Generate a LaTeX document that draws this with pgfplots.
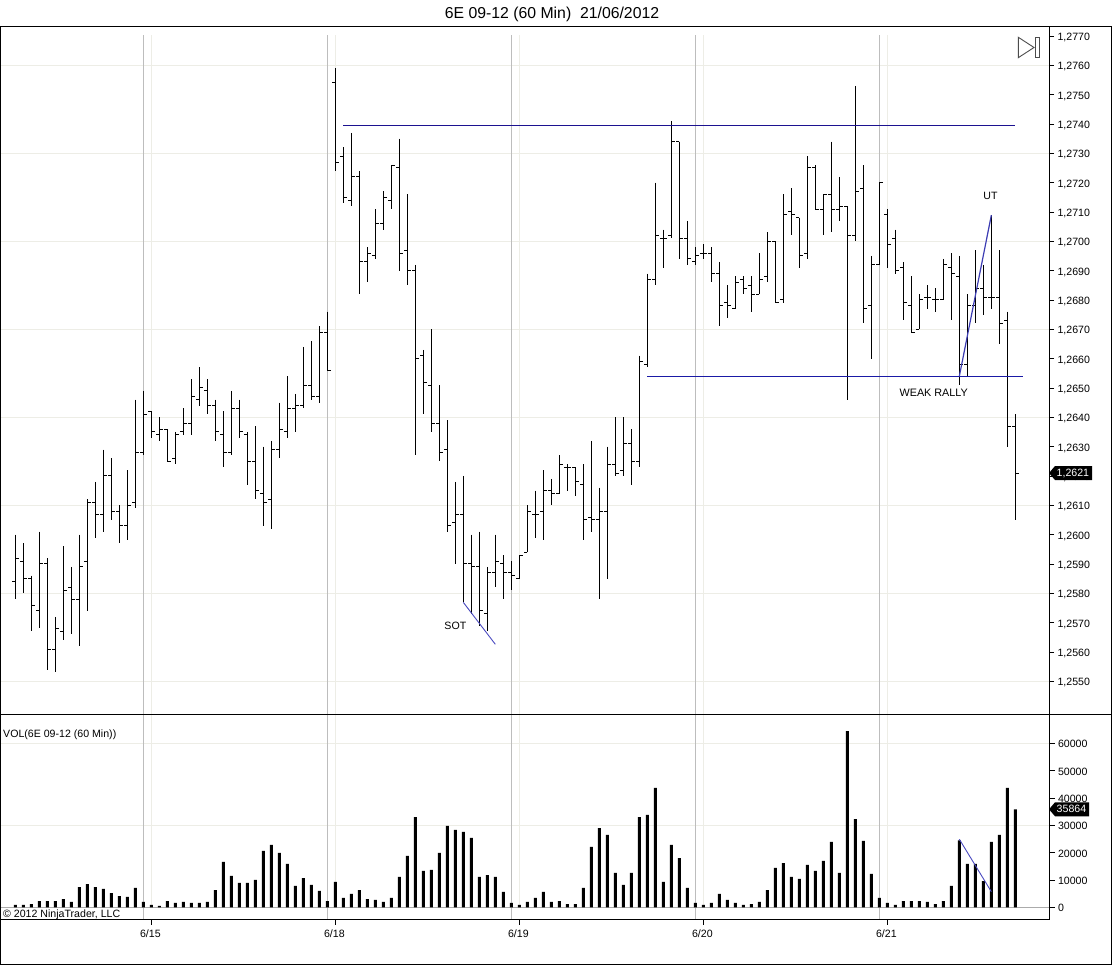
\documentclass[border=0pt]{standalone}
\usepackage{fontspec}
\setmainfont{Liberation Sans}
\usepackage{pgfplots}
\usepackage{pgfplotstable}
\pgfplotsset{compat=1.18}

\definecolor{gridlight}{HTML}{EDEDE6}
\definecolor{gridgray}{HTML}{BDBDBD}
\definecolor{zeroline}{HTML}{ABABAB}
\definecolor{navyline}{HTML}{1C1290}
\definecolor{blueline}{HTML}{1A1AA6}
\definecolor{thinblue}{HTML}{4A4AC0}

\newcommand{\chartfont}{\fontsize{10.6}{12}\selectfont}

% i open high low close volume
\pgfplotstableread{
i o h l c v
0 1.2584 1.2600 1.2578 1.2592 850
1 1.2591 1.2597 1.2580 1.2585 850
2 1.2585 1.2586 1.2567 1.2576 1200
3 1.2574 1.2601 1.2568 1.2590 2300
4 1.2590 1.2592 1.2554 1.2561 2300
5 1.2561 1.2572 1.2553 1.2568 2300
6 1.2567 1.2596 1.2564 1.2581 3000
7 1.2582 1.2589 1.2566 1.2578 2000
8 1.2578 1.2600 1.2562 1.2589 7400
9 1.2591 1.2612 1.2574 1.2611 8500
10 1.2611 1.2618 1.2599 1.2607 7400
11 1.2607 1.2629 1.2601 1.2620 6700
12 1.2620 1.2626 1.2605 1.2608 5200
13 1.2608 1.2610 1.2597 1.2603 4100
14 1.2603 1.2622 1.2598 1.2610 3800
15 1.2611 1.2646 1.2609 1.2628 7100
16 1.2628 1.2649 1.2627 1.2641 2000
17 1.2642 1.2642 1.2633 1.2635 850
18 1.2634 1.2640 1.2632 1.2636 500
19 1.2636 1.2636 1.2625 1.2625 2300
20 1.2626 1.2635 1.2624 1.2634 1600
21 1.2635 1.2643 1.2634 1.2638 2000
22 1.2638 1.2653 1.2634 1.2647 1600
23 1.2646 1.2657 1.2644 1.2650 1600
24 1.2649 1.2653 1.2641 1.2644 2000
25 1.2644 1.2646 1.2632 1.2635 6300
26 1.2634 1.2642 1.2623 1.2628 16600
27 1.2628 1.2649 1.2627 1.2643 11500
28 1.2643 1.2646 1.2633 1.2635 8900
29 1.2634 1.2635 1.2617 1.2625 8900
30 1.2625 1.2637 1.2612 1.2615 10000
31 1.2614 1.2630 1.2603 1.2611 20600
32 1.2612 1.2632 1.2602 1.2629 22800
33 1.2629 1.2645 1.2626 1.2636 19900
34 1.2635 1.2654 1.2633 1.2643 15900
35 1.2643 1.2648 1.2635 1.2644 7800
36 1.2644 1.2664 1.2643 1.2651 10700
37 1.2651 1.2666 1.2646 1.2647 8200
38 1.2647 1.2671 1.2645 1.2669 6000
39 1.2669 1.2676 1.2656 1.2656 2300
40 1.2754 1.2759 1.2724 1.2727 9300
41 1.2729 1.2732 1.2713 1.2715 3400
42 1.2714 1.2737 1.2712 1.2722 4900
43 1.2722 1.2724 1.2682 1.2693 6300
44 1.2693 1.2698 1.2686 1.2696 3000
45 1.2695 1.2711 1.2694 1.2706 2700
46 1.2706 1.2717 1.2704 1.2715 2000
47 1.2714 1.2726 1.2711 1.2726 3400
48 1.2725 1.2735 1.2690 1.2696 11100
49 1.2697 1.2716 1.2685 1.2690 18800
50 1.2690 1.2692 1.2627 1.2660 33000
51 1.2661 1.2663 1.2641 1.2652 13300
52 1.2651 1.2670 1.2635 1.2638 13700
53 1.2638 1.2651 1.2625 1.2628 19900
54 1.2629 1.2639 1.2601 1.2603 29800
55 1.2604 1.2618 1.2590 1.2607 28300
56 1.2607 1.2620 1.2577 1.2590 27600
57 1.2590 1.2600 1.2573 1.2589 25400
58 1.2589 1.2601 1.2569 1.2574 11100
59 1.2573 1.2589 1.2567 1.2587 11800
60 1.2587 1.2600 1.2582 1.2591 11100
61 1.2590 1.2593 1.2578 1.2587 5600
62 1.2587 1.2591 1.2581 1.2586 1600
63 1.2585 1.2593 1.2585 1.2593 850
64 1.2594 1.2610 1.2594 1.2608 2000
65 1.2607 1.2615 1.2599 1.2607 3400
66 1.2608 1.2622 1.2598 1.2615 5600
67 1.2615 1.2619 1.2610 1.2614 2000
68 1.2614 1.2627 1.2614 1.2624 2300
69 1.2623 1.2624 1.2615 1.2623 1200
70 1.2623 1.2623 1.2613 1.2618 1200
71 1.2617 1.2624 1.2598 1.2605 7100
72 1.2606 1.2632 1.2601 1.2605 22100
73 1.2605 1.2616 1.2578 1.2608 29000
74 1.2608 1.2630 1.2585 1.2624 26500
75 1.2624 1.2640 1.2620 1.2621 12600
76 1.2622 1.2640 1.2620 1.2631 8200
77 1.2631 1.2636 1.2617 1.2625 12600
78 1.2625 1.2661 1.2623 1.2659 33000
79 1.2658 1.2689 1.2657 1.2687 33800
80 1.2687 1.2720 1.2685 1.2702 43700
81 1.2701 1.2704 1.2691 1.2701 9300
82 1.2702 1.2741 1.2701 1.2734 22800
83 1.2734 1.2734 1.2694 1.2701 18000
84 1.2701 1.2707 1.2692 1.2694 7100
85 1.2693 1.2698 1.2692 1.2695 1600
86 1.2696 1.2699 1.2694 1.2696 850
87 1.2696 1.2698 1.2686 1.2689 1600
88 1.2689 1.2693 1.2671 1.2678 4900
89 1.2679 1.2685 1.2674 1.2678 2700
90 1.2677 1.2688 1.2677 1.2686 1600
91 1.2687 1.2688 1.2682 1.2684 850
92 1.2685 1.2688 1.2676 1.2682 1200
93 1.2682 1.2696 1.2682 1.2687 2000
94 1.2688 1.2703 1.2686 1.2700 6300
95 1.2700 1.2700 1.2679 1.2679 14400
96 1.2680 1.2716 1.2679 1.2709 16200
97 1.2710 1.2718 1.2702 1.2709 11100
98 1.2708 1.2708 1.2691 1.2695 10400
99 1.2696 1.2729 1.2694 1.2725 15500
100 1.2725 1.2726 1.2711 1.2711 13300
101 1.2711 1.2716 1.2702 1.2716 17000
102 1.2716 1.2734 1.2703 1.2711 23900
103 1.2711 1.2722 1.2707 1.2712 12600
104 1.2712 1.2712 1.2646 1.2702 64500
105 1.2702 1.2753 1.2700 1.2717 32300
106 1.2718 1.2726 1.2672 1.2677 24300
107 1.2678 1.2695 1.2660 1.2692 12200
108 1.2692 1.2720 1.2692 1.2720 3400
109 1.2709 1.2711 1.2691 1.2699 1600
110 1.2701 1.2704 1.2689 1.2690 850
111 1.2691 1.2693 1.2673 1.2679 2300
112 1.2678 1.2688 1.2669 1.2669 2300
113 1.2670 1.2682 1.2670 1.2680 2300
114 1.2681 1.2685 1.2677 1.2681 2000
115 1.2680 1.2684 1.2676 1.2680 1200
116 1.2680 1.2694 1.2680 1.2692 2300
117 1.2691 1.2696 1.2673 1.2689 7800
118 1.2688 1.2695 1.2651 1.2658 24500
119 1.2658 1.2682 1.2654 1.2678 15900
120 1.2678 1.2697 1.2672 1.2684 15900
121 1.2684 1.2692 1.2675 1.2681 9600
122 1.2681 1.2709 1.2677 1.2681 23900
123 1.2681 1.2697 1.2665 1.2672 26500
124 1.2673 1.2676 1.2630 1.2637 43700
125 1.2637 1.2641 1.2605 1.2621 35864
}\ohlc

\pgfplotsset{
  panel/.style={
    scale only axis, clip=false, anchor=south west,
    width=1048.5pt,
    xmin=-1.854, xmax=129.209,
    axis line style={black, line width=1pt},
    tick style={black, line width=0.9pt},
    tick align=outside, major tick length=5pt,
    ytick pos=right, yticklabel pos=right,
    tick label style={font=\chartfont},
    /pgf/number format/assume math mode=true,
  },
  hl/.style={error bars/.cd, y dir=minus, y explicit, error mark=none,
    error bar style={draw=black, line width=1pt}},
  tk/.style={error bars/.cd, x dir=#1, x fixed=0.45, error mark=none,
    error bar style={draw=black, line width=1pt}},
}

\begin{document}
\begin{tikzpicture}[x=1pt,y=1pt]
\useasboundingbox (0,0) rectangle (1112,965);

% price panel
\begin{axis}[
  panel, at={(0.5pt,250pt)}, height=688pt,
  ymin=1.253851, ymax=1.277306,
  xtick=\empty,
  ytick={1.2550,1.2560,1.2570,1.2580,1.2590,1.2600,1.2610,1.2620,1.2630,1.2640,1.2650,1.2660,1.2670,1.2680,1.2690,1.2700,1.2710,1.2720,1.2730,1.2740,1.2750,1.2760,1.2770},
  yticklabel style={yshift=-1.5pt, /pgf/number format/.cd, fixed, fixed zerofill, precision=4, use comma},
  scaled y ticks=false,
  extra y ticks={1.2550,1.2580,1.2610,1.2640,1.2670,1.2700,1.2730,1.2760},
  extra y tick labels={},
  extra y tick style={grid=major, major grid style={gridlight, line width=0.9pt}, major tick length=0pt},
]
\pgfplotsinvokeforeach{17,40,63,86,109}{
  \addplot[gridlight, line width=1pt, forget plot] coordinates {(#1,1.27703)(#1,1.253851)};
}
\pgfplotsinvokeforeach{16,39,62,85,108}{
  \addplot[gridgray, line width=1pt, forget plot] coordinates {(#1,1.27703)(#1,1.253851)};
}
\addplot[draw=none, mark=none, forget plot, hl]
  table[x=i, y=h, y error minus expr=\thisrow{h}-\thisrow{l}] {\ohlc};
\addplot[draw=none, mark=none, forget plot, tk=minus] table[x=i, y=o] {\ohlc};
\addplot[draw=none, mark=none, forget plot, tk=plus] table[x=i, y=c] {\ohlc};
% hand drawn lines
\addplot[navyline, line width=1pt] coordinates {(41,1.27395)(125,1.27395)};
\addplot[blueline, line width=1pt] coordinates {(79,1.2654)(126,1.2654)};
\addplot[thinblue, line width=0.9pt] coordinates {(56,1.25769)(60,1.25626)};
\addplot[blueline!85!white, line width=1.2pt] coordinates {(118,1.2654)(122,1.27089)};
\node[font=\chartfont] at (axis cs:55.0,1.25689) {SOT};
\node[font=\chartfont] at (axis cs:121.9,1.27154) {UT};
\node[font=\fontsize{10.8}{12}\selectfont] at (axis cs:114.8,1.26482) {WEAK RALLY};
\coordinate (pricetag) at (axis cs:129.209,1.2621);
\end{axis}

% volume panel
\begin{axis}[
  panel, at={(0.5pt,45.5pt)}, height=204.5pt,
  ymin=-4464, ymax=70362,
  xtick={17,40,63,86,109},
  xticklabels={6/15,6/18,6/19,6/20,6/21},
  xtick pos=bottom, xticklabel pos=bottom,
  xticklabel style={xshift=-1pt, yshift=-1pt},
  major tick length=5.5pt,
  ytick={0,10000,20000,30000,40000,50000,60000},
  yticklabel style={yshift=-1pt, /pgf/number format/.cd, fixed, 1000 sep={}},
  scaled y ticks=false,
  extra y ticks={30000,60000},
  extra y tick labels={},
  extra y tick style={grid=major, major grid style={gridlight, line width=0.9pt}, major tick length=0pt},
]
\pgfplotsinvokeforeach{17,40,63,86,109}{
  \addplot[gridlight, line width=1pt, forget plot] coordinates {(#1,70362)(#1,0)};
}
\pgfplotsinvokeforeach{16,39,62,85,108}{
  \addplot[gridgray, line width=1pt, forget plot] coordinates {(#1,70362)(#1,-4464)};
}
\addplot[zeroline, line width=1pt, forget plot] coordinates {(-1.854,0)(129.209,0)};
\addplot[ybar, bar width=3pt, bar shift=0pt, fill=black, draw=none, forget plot] table[x=i, y=v] {\ohlc};
\addplot[thinblue, line width=0.9pt] coordinates {(118,24900)(122,5700)};
\coordinate (voltag) at (axis cs:129.209,35864);
\end{axis}

% frame and panel rules
\draw[black, line width=1pt] (0,938) -- (1112,938);
\draw[black, line width=1pt] (0,250) -- (1112,250);
\draw[black, line width=1pt] (0.5,938) -- (0.5,0.5) -- (1111,0.5) -- (1111,938);

% last value tags
\fill[black] (pricetag) ++(0,0) -- ++(6,7) -- ++(37,0) -- ++(0,-14) -- ++(-37,0) -- cycle;
\node[anchor=west, text=white, font=\chartfont, inner sep=0pt] at ([xshift=7.5pt]pricetag) {1,2621};
\fill[black] (voltag) ++(0,0) -- ++(6,7) -- ++(34,0) -- ++(0,-14) -- ++(-34,0) -- cycle;
\node[anchor=west, text=white, font=\chartfont, inner sep=0pt] at ([xshift=7.5pt]voltag) {35864};

% play to end icon
\draw[black!70, line width=0.9pt] (1018.3,927.7) -- (1034,917.5) -- (1018.3,907.3) -- cycle;
\draw[black!70, line width=0.9pt] (1035.7,927.7) rectangle (1039,907.3);

\node[font=\fontsize{15.8}{18}\selectfont] at (552,951) {6E 09-12 (60 Min)\ \ 21/06/2012};
\node[anchor=west, font=\chartfont, inner sep=0pt] at (3,230.5) {VOL(6E 09-12 (60 Min))};
\node[anchor=west, font=\chartfont, inner sep=0pt] at (3,50.5) {© 2012 NinjaTrader, LLC};
\end{tikzpicture}
\end{document}
